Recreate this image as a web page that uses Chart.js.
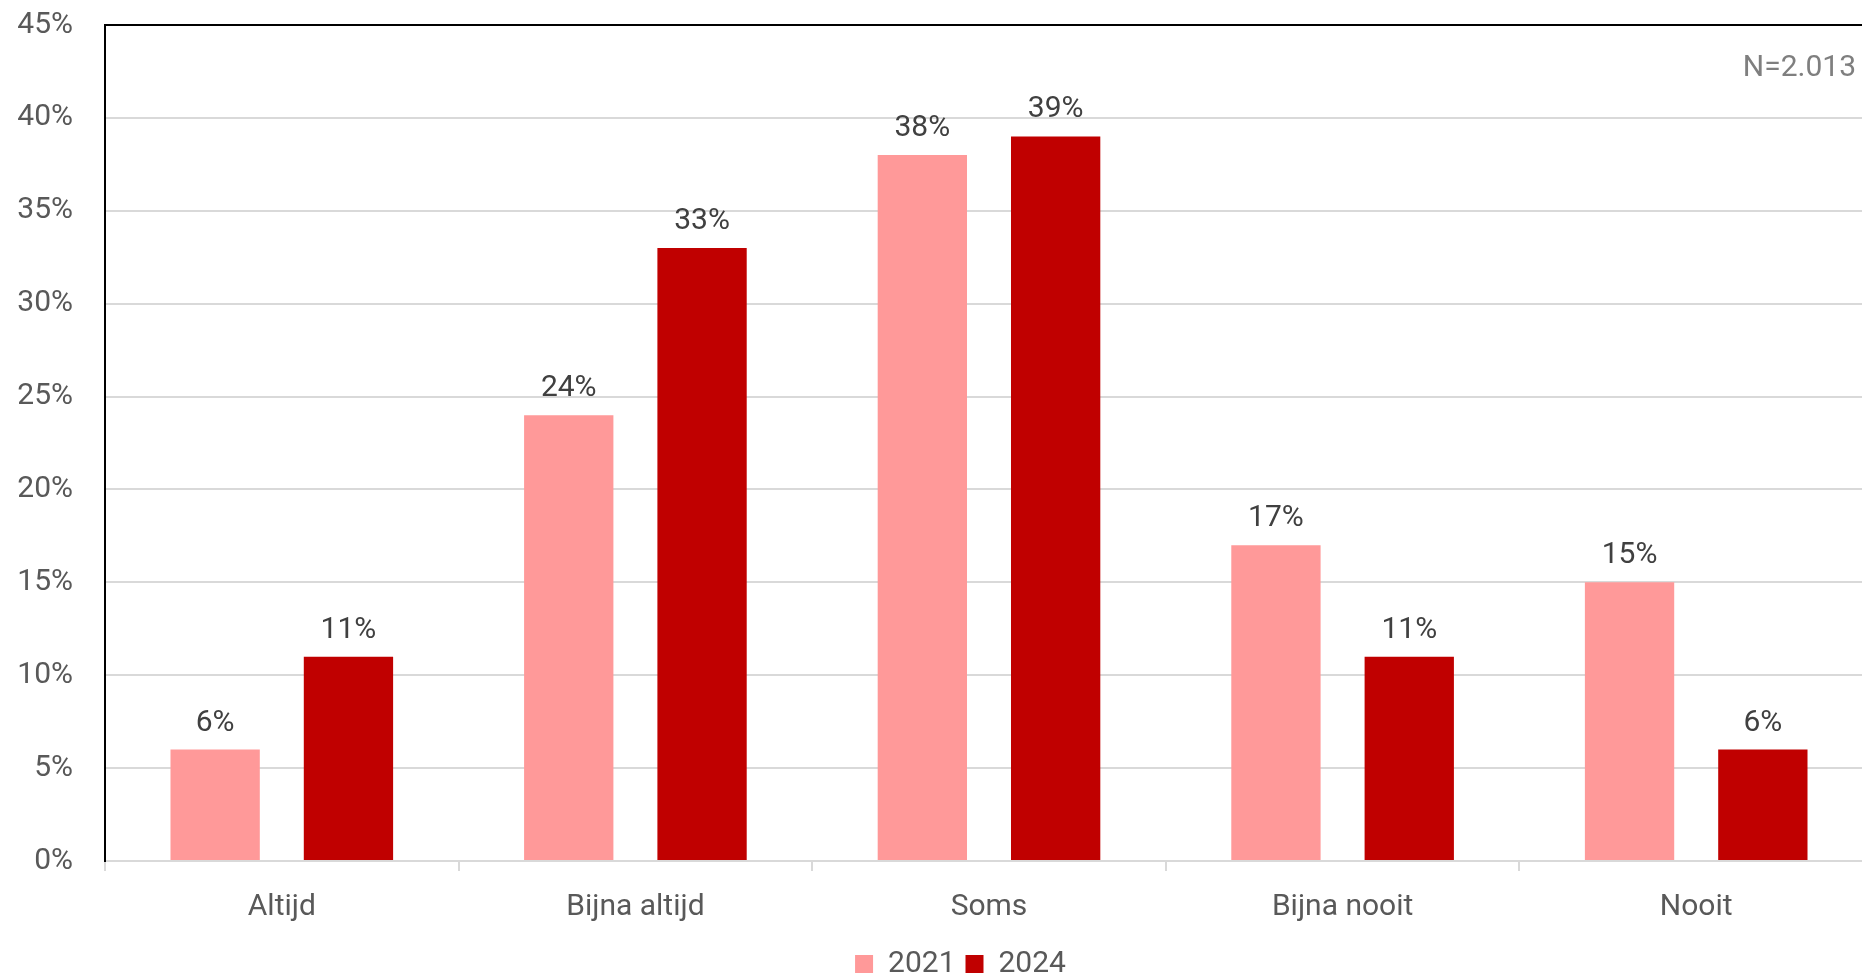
<!DOCTYPE html>
<html>
<head>
  <title>Altijd / Soms / Nooit</title>
  <script src="https://cdn.jsdelivr.net/npm/chart.js"></script>
  <style>
    html, body { margin: 0; padding: 0; background: #fff; overflow: hidden; }
    /* plot runs slightly past the right edge in the original */
    #wrap { width: 1873px; height: 976px; }
  </style>
</head>
<body>
  <div id="wrap"><canvas id="chart"></canvas></div>

  <script>
    // data
    const categories = ['Altijd', 'Bijna altijd', 'Soms', 'Bijna nooit', 'Nooit'];
    const values2021 = [6, 24, 38, 17, 15];
    const values2024 = [11, 33, 39, 11, 6];
    const seriesLabels = ['2021', '2024'];
    const sampleNote = 'N=2.013';

    const FONT = 'Roboto, "Open Sans", sans-serif';
    const VIEW_W = 1862;

    // value labels above bars + N label top right
    const barLabels = {
      id: 'barLabels',
      afterDatasetsDraw(chart) {
        const ctx = chart.ctx;
        ctx.save();
        ctx.font = '30px ' + FONT;
        ctx.fillStyle = '#404040';
        ctx.textAlign = 'center';
        ctx.textBaseline = 'alphabetic';
        chart.data.datasets.forEach((ds, i) => {
          chart.getDatasetMeta(i).data.forEach((bar, j) => {
            ctx.fillText(ds.data[j] + '%', bar.x, bar.y - 19);
          });
        });
        ctx.fillStyle = '#7f7f7f';
        ctx.textAlign = 'right';
        ctx.textBaseline = 'middle';
        ctx.fillText(sampleNote, VIEW_W - 6, 68);
        ctx.restore();
      }
    };

    // nudge the legend a bit lower and to the right, like the original
    const legendShift = {
      id: 'legendShift',
      afterLayout(chart) {
        const lg = chart.legend;
        if (!lg) return;
        lg.left += 24; lg.right += 24;
        lg.top += 13; lg.bottom += 13;
      }
    };

    new Chart(document.getElementById('chart'), {
      type: 'bar',
      data: {
        labels: categories,
        datasets: [
          { label: seriesLabels[0], data: values2021, backgroundColor: '#ff9999' },
          { label: seriesLabels[1], data: values2024, backgroundColor: '#c00000' }
        ]
      },
      options: {
        responsive: true,
        maintainAspectRatio: false,
        animation: false,
        categoryPercentage: 0.754,
        barPercentage: 0.67,
        layout: { padding: 0 },
        plugins: {
          legend: {
            position: 'bottom',
            labels: {
              font: { family: FONT, size: 30 },
              color: '#595959',
              boxWidth: 18,
              boxHeight: 18,
              padding: 10
            }
          },
          tooltip: { enabled: false }
        },
        scales: {
          x: {
            grid: {
              display: true,
              drawOnChartArea: false,
              drawTicks: true,
              tickLength: 10,
              color: '#d9d9d9',
              lineWidth: 2,
              offset: true
            },
            border: { color: '#d9d9d9', width: 2 },
            ticks: { font: { family: FONT, size: 30 }, color: '#595959', padding: 18 },
            afterFit: s => { s.height = 65; }
          },
          y: {
            min: 0,
            max: 45,
            ticks: {
              stepSize: 5,
              font: { family: FONT, size: 30 },
              color: '#595959',
              padding: 32,
              callback: v => v + '%'
            },
            grid: {
              drawTicks: false,
              color: c => c.tick && c.tick.value === 45 ? '#000000' : (c.tick && c.tick.value === 0 ? 'rgba(0,0,0,0)' : '#d9d9d9'),
              lineWidth: 2
            },
            border: { color: '#000000', width: 2 },
            afterFit: s => { s.width = 105; s.paddingTop = 25; }
          }
        }
      },
      plugins: [barLabels, legendShift]
    });
  </script>
</body>
</html>
